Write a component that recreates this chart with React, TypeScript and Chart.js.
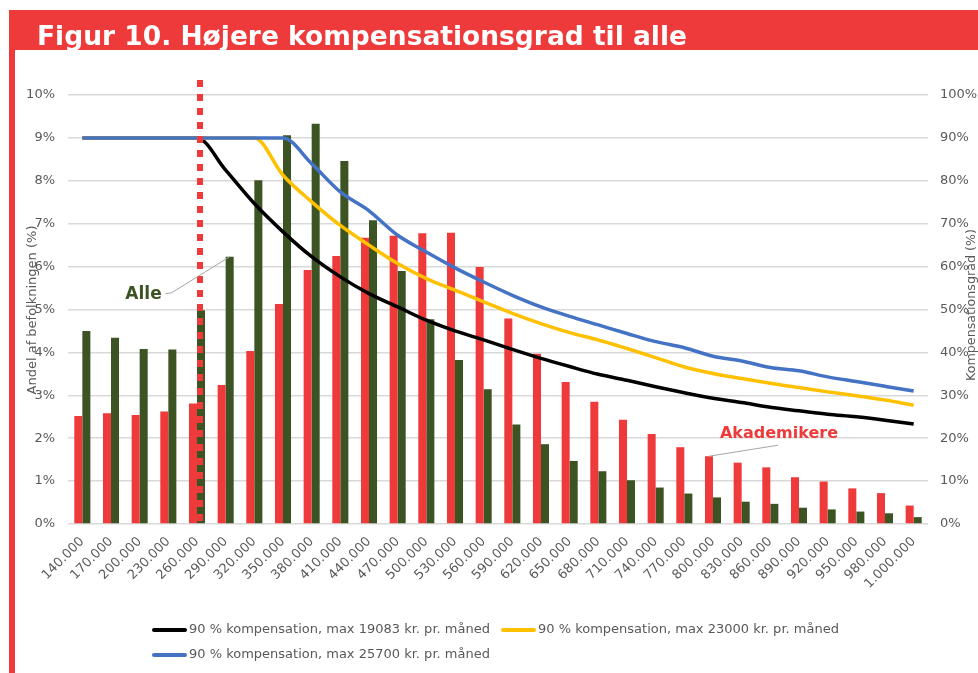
import { useEffect, useRef } from 'react';
import { Chart, registerables } from 'chart.js';

Chart.register(...registerables);

const categories = [
  '140.000', '170.000', '200.000', '230.000', '260.000', '290.000', '320.000', '350.000', '380.000', '410.000',
  '440.000', '470.000', '500.000', '530.000', '560.000', '590.000', '620.000', '650.000', '680.000', '710.000',
  '740.000', '770.000', '800.000', '830.000', '860.000', '890.000', '920.000', '950.000', '980.000', '1.000.000',
];

const akademikere = [
  2.52, 2.58, 2.54, 2.62, 2.81, 3.24, 4.03, 5.13, 5.92, 6.25,
  6.67, 6.72, 6.78, 6.79, 5.99, 4.79, 3.97, 3.31, 2.85, 2.43,
  2.10, 1.79, 1.58, 1.43, 1.32, 1.09, 0.99, 0.83, 0.72, 0.43,
];

const alle = [
  4.50, 4.34, 4.08, 4.07, 4.98, 6.23, 8.01, 9.06, 9.33, 8.46,
  7.08, 5.90, 4.77, 3.82, 3.14, 2.32, 1.86, 1.47, 1.23, 1.02,
  0.85, 0.71, 0.62, 0.52, 0.47, 0.38, 0.34, 0.29, 0.25, 0.16,
];

const komp19083 = [
  90, 90, 90, 90, 90, 82.5, 74.7, 68.1, 62.3, 57.6,
  53.7, 50.6, 47.5, 45.0, 42.9, 40.7, 38.6, 36.7, 34.9, 33.5,
  32.0, 30.6, 29.3, 28.3, 27.2, 26.4, 25.6, 25.0, 24.2, 23.3,
];

const komp23000 = [
  90, 90, 90, 90, 90, 90, 90, 81.3, 75.1, 69.6,
  65.0, 60.7, 57.2, 54.5, 51.8, 49.1, 46.7, 44.6, 42.9, 40.9,
  38.8, 36.6, 35.1, 33.9, 32.8, 31.8, 30.8, 29.9, 28.9, 27.7,
];

const komp25700 = [
  90, 90, 90, 90, 90, 90, 90, 90, 84.0, 77.4,
  73.0, 67.3, 63.4, 59.7, 56.4, 53.3, 50.6, 48.4, 46.4, 44.4,
  42.5, 41.1, 39.1, 38.0, 36.5, 35.7, 34.3, 33.2, 32.1, 31.0,
];

const leftTicks = [0, 1, 2, 3, 4, 5, 6, 7, 8, 9, 10];
const rightTicks = [0, 10, 20, 30, 40, 50, 60, 70, 80, 90, 100];

const TITLE = 'Figur 10. Højere kompensationsgrad til alle';
const LEFT_TITLE = 'Andel af befolkningen (%)';
const RIGHT_TITLE = 'Kompensationsgrad (%)';
const LEGEND = [
  { label: '90 % kompensation, max 19083 kr. pr. måned', color: '#000000' },
  { label: '90 % kompensation, max 23000 kr. pr. måned', color: '#FFC000' },
  { label: '90 % kompensation, max 25700 kr. pr. måned', color: '#4472C4' },
];

const RED = '#EE3A3A';
const GREEN = '#3C5424';
const GRAY_TEXT = '#595959';
const FONT = '"DejaVu Sans", Verdana, sans-serif';
const CUT_INDEX = 4;

const decorPlugin = {
  id: 'decor',
  beforeDraw(chart: any) {
    const { ctx, width, height } = chart;
    ctx.save();
    ctx.fillStyle = '#ffffff';
    ctx.fillRect(0, 0, width, height);
    ctx.fillStyle = RED;
    ctx.fillRect(9, 10, width - 9, 40);
    ctx.fillRect(9, 10, 6, height - 10);
    ctx.fillStyle = '#ffffff';
    ctx.font = `bold 27px ${FONT}`;
    ctx.textBaseline = 'alphabetic';
    ctx.textAlign = 'left';
    ctx.fillText(TITLE, 37, 45, 650);
    ctx.restore();
  },
  afterDatasetsDraw(chart: any) {
    const { ctx, chartArea } = chart;
    const x = chart.scales.x;
    const y = chart.scales.y;
    ctx.save();

    // dotted vertical cut line
    const cx = x.getPixelForValue(CUT_INDEX) + 3;
    ctx.strokeStyle = RED;
    ctx.lineWidth = 6;
    ctx.setLineDash([7, 7]);
    ctx.beginPath();
    ctx.moveTo(cx, chartArea.top - 15);
    ctx.lineTo(cx, chartArea.bottom + 4);
    ctx.stroke();
    ctx.setLineDash([]);

    // annotations
    const step = x.getPixelForValue(1) - x.getPixelForValue(0);
    const bw = step * 0.28;
    const alleIdx = 5;
    const ax = x.getPixelForValue(alleIdx) + bw * 0.5;
    const ay = y.getPixelForValue(alle[alleIdx]);
    ctx.strokeStyle = '#A6A6A6';
    ctx.lineWidth = 1;
    ctx.beginPath();
    ctx.moveTo(ax, ay);
    ctx.lineTo(ax - 58, ay + 36);
    ctx.lineTo(ax - 64, ay + 37);
    ctx.stroke();
    ctx.font = `bold 17px ${FONT}`;
    ctx.fillStyle = GREEN;
    ctx.textAlign = 'right';
    ctx.textBaseline = 'middle';
    ctx.fillText('Alle', ax - 68, ay + 38);

    const akIdx = 22;
    const kx = x.getPixelForValue(akIdx) - bw * 0.5;
    const ky = y.getPixelForValue(akademikere[akIdx]);
    ctx.beginPath();
    ctx.moveTo(kx, ky);
    ctx.lineTo(kx + 69, ky - 11);
    ctx.stroke();
    ctx.font = `bold 16px ${FONT}`;
    ctx.fillStyle = RED;
    ctx.textAlign = 'center';
    ctx.textBaseline = 'alphabetic';
    ctx.fillText('Akademikere', kx + 70, ky - 18, 128);

    // axis titles
    ctx.fillStyle = GRAY_TEXT;
    ctx.font = `13px ${FONT}`;
    ctx.textAlign = 'center';
    ctx.textBaseline = 'middle';
    ctx.save();
    ctx.translate(33, 310);
    ctx.rotate(-Math.PI / 2);
    ctx.fillText(LEFT_TITLE, 0, 0, 174);
    ctx.restore();
    ctx.save();
    ctx.translate(972, 305);
    ctx.rotate(-Math.PI / 2);
    ctx.fillText(RIGHT_TITLE, 0, 0, 152);
    ctx.restore();

    // legend
    const rows = [
      { item: LEGEND[0], sx: 154, ty: 630 },
      { item: LEGEND[1], sx: 503, ty: 630 },
      { item: LEGEND[2], sx: 154, ty: 655 },
    ];
    ctx.textAlign = 'left';
    ctx.font = `13px ${FONT}`;
    rows.forEach(({ item, sx, ty }) => {
      ctx.strokeStyle = item.color;
      ctx.lineWidth = 4;
      ctx.lineCap = 'round';
      ctx.beginPath();
      ctx.moveTo(sx, ty);
      ctx.lineTo(sx + 31, ty);
      ctx.stroke();
      ctx.fillStyle = GRAY_TEXT;
      ctx.fillText(item.label, sx + 35, ty, 314);
    });
    ctx.restore();
  },
};

export default function App() {
  const canvasRef = useRef<HTMLCanvasElement | null>(null);

  useEffect(() => {
    document.body.style.margin = '0';
    const canvas = canvasRef.current;
    if (!canvas) return;
    const lineDs = (label: string, data: number[], color: string, order: number) => ({
      type: 'line' as const,
      label,
      data,
      yAxisID: 'y1',
      borderColor: color,
      backgroundColor: color,
      borderWidth: 3.5,
      pointRadius: 0,
      cubicInterpolationMode: 'monotone' as const,
      order,
    });
    const chart = new Chart(canvas, {
      type: 'bar',
      data: {
        labels: categories,
        datasets: [
          {
            type: 'bar',
            label: 'Akademikere',
            data: akademikere,
            backgroundColor: RED,
            yAxisID: 'y',
            barPercentage: 1,
            categoryPercentage: 0.56,
            order: 10,
          },
          {
            type: 'bar',
            label: 'Alle',
            data: alle,
            backgroundColor: GREEN,
            yAxisID: 'y',
            barPercentage: 1,
            categoryPercentage: 0.56,
            order: 10,
          },
          lineDs(LEGEND[0].label, komp19083, LEGEND[0].color, 3),
          lineDs(LEGEND[1].label, komp23000, LEGEND[1].color, 2),
          lineDs(LEGEND[2].label, komp25700, LEGEND[2].color, 1),
        ] as any,
      },
      options: {
        responsive: false,
        animation: false,
        layout: { padding: { top: 95, left: 0, right: 0, bottom: 0 } },
        plugins: {
          legend: { display: false },
          tooltip: { enabled: false },
          title: { display: false },
        },
        scales: {
          x: {
            offset: true,
            grid: { display: false },
            border: { display: false },
            ticks: {
              autoSkip: false,
              maxRotation: 45,
              minRotation: 45,
              padding: 2,
              color: GRAY_TEXT,
              font: { family: FONT, size: 13 },
            },
            afterFit: (s: any) => { s.height = 149; },
          },
          y: {
            position: 'left',
            min: 0,
            max: 10,
            afterBuildTicks: (s: any) => { s.ticks = leftTicks.map((v) => ({ value: v })); },
            grid: { color: '#D9D9D9', lineWidth: 1.5, drawTicks: false },
            border: { display: false },
            ticks: {
              padding: 13,
              color: GRAY_TEXT,
              font: { family: FONT, size: 13 },
              callback: (v: any) => `${v}%`,
            },
            afterFit: (s: any) => { s.width = 68; },
          },
          y1: {
            position: 'right',
            min: 0,
            max: 100,
            afterBuildTicks: (s: any) => { s.ticks = rightTicks.map((v) => ({ value: v })); },
            grid: { display: false, drawTicks: false },
            border: { display: false },
            ticks: {
              padding: 12,
              color: GRAY_TEXT,
              font: { family: FONT, size: 13 },
              callback: (v: any) => `${v}%`,
            },
            afterFit: (s: any) => { s.width = 50; },
          },
        },
      } as any,
      plugins: [decorPlugin],
    });
    return () => chart.destroy();
  }, []);

  return (
    <div style={{ width: 978, height: 673 }}>
      <canvas ref={canvasRef} width={978} height={673} style={{ display: 'block' }} />
    </div>
  );
}
